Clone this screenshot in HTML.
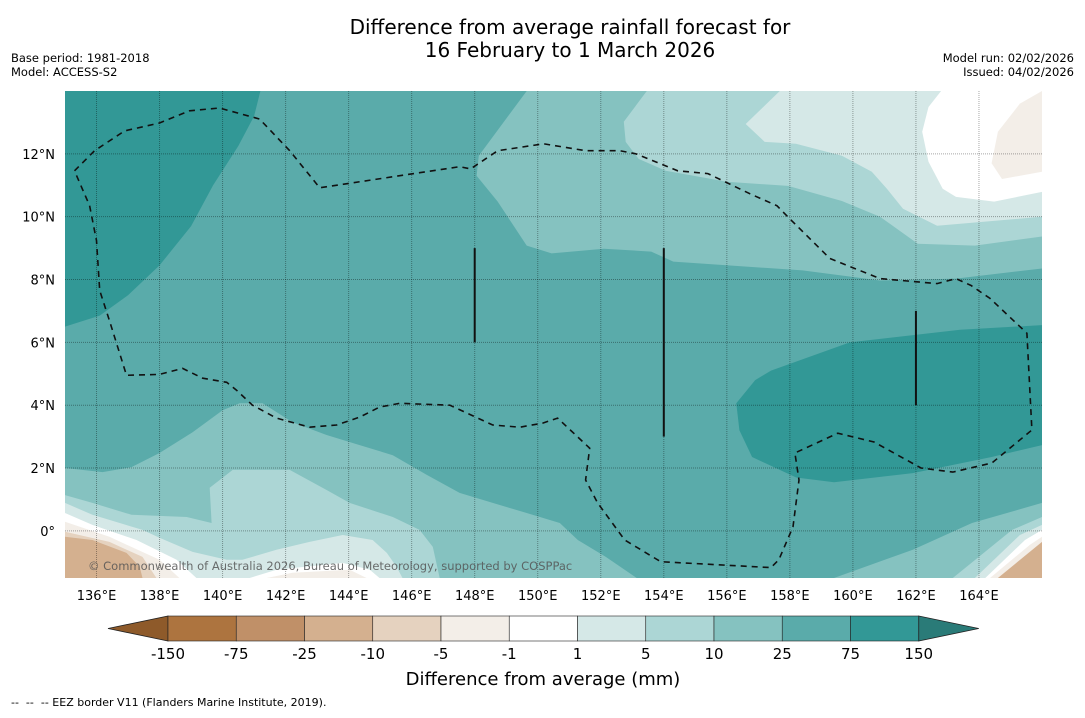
<!DOCTYPE html>
<html><head><meta charset="utf-8">
<style>
body{margin:0;background:#fff;width:1085px;height:713px;overflow:hidden;font-family:"Liberation Sans","DejaVu Sans",sans-serif;}
svg text{font-family:"DejaVu Sans","Liberation Sans",sans-serif;white-space:pre;}
</style></head>
<body>
<svg id="chart" width="1085" height="713" viewBox="0 0 1085 713" xmlns="http://www.w3.org/2000/svg">
<text x="570" y="34" font-size="20" text-anchor="middle" fill="#000">Difference from average rainfall forecast for</text>
<text x="570" y="57" font-size="20" text-anchor="middle" fill="#000">16 February to 1 March 2026</text>
<text x="11" y="62" font-size="11.5">Base period: 1981-2018</text>
<text x="11" y="76" font-size="11.5">Model: ACCESS-S2</text>
<text x="1074" y="62" font-size="11.5" text-anchor="end">Model run: 02/02/2026</text>
<text x="1074" y="76" font-size="11.5" text-anchor="end">Issued: 04/02/2026</text>
<defs><clipPath id="mapclip"><rect x="65" y="91" width="977" height="487"/></clipPath></defs>
<g id="map" clip-path="url(#mapclip)"></g>
<g id="axes"></g>
<g id="cbar"></g>
<text x="543" y="685" font-size="18" text-anchor="middle">Difference from average (mm)</text>
<text x="11" y="706" font-size="11">--  --  -- EEZ border V11 (Flanders Marine Institute, 2019).</text>
</svg>
<script>
// ---- data ----
const lonTicks = [136,138,140,142,144,146,148,150,152,154,156,158,160,162,164];
const latTicks = [0,2,4,6,8,10,12];
const levelLabels = ["-150","-75","-25","-10","-5","-1","1","5","10","25","75","150"];
const levelColors = ["#ad743f","#c09068","#d4b08f","#e5d2bf","#f3eee8","#ffffff","#d5e8e7","#acd6d5","#85c2c0","#5aabaa","#329896"];
const extendLow = "#8e5a2a", extendHigh = "#2a7b78";
const background = "#5aabaa";
// contour regions [lon,lat]
const darkTopLeft = [[135,14],[141.2,14],[141,13.2],[140.5,12.25],[139.7,11],[139,9.7],[138,8.45],[137,7.5],[136.1,6.85],[135,6.5]];
const darkRight = [[166,6.55],[163.4,6.4],[159.9,6.0],[157.4,5.1],[156.9,4.8],[156.3,4.06],[156.4,3.2],[156.8,2.35],[158.2,1.7],[159.4,1.55],[161.9,1.84],[164.4,2.35],[166,2.73]];
const topR10 = [[149.65,14],[148.13,11.94],[148.06,11.3],[148.73,10.48],[149.65,9.08],[150.44,8.83],[152.1,8.98],[153.6,8.89],[154.3,8.57],[158.4,8.29],[160.86,7.97],[163.27,8.03],[166,8.35],[166,14]];
const topR5 = [[153.46,14],[152.73,13.02],[152.79,12.38],[153.2,11.84],[154.06,11.46],[156,11.11],[157.94,10.98],[159.65,10.5],[160.86,10],[162.06,9.14],[163.87,9.08],[166,9.37],[166,14]];
const topR1 = [[157.68,14],[156.6,12.95],[157.2,12.38],[158.19,12.32],[159.65,11.94],[160.6,11.43],[161.08,10.89],[161.59,10.25],[162.67,9.71],[166,10],[166,14]];
const topRWhite = [[162.8,14],[162.4,13.49],[162.2,12.7],[162.4,11.75],[162.85,10.89],[163.27,10.63],[164.48,10.48],[166,10.79],[166,14]];
const topRBeige = [[166,14],[165.3,13.6],[164.6,12.7],[164.4,11.7],[164.73,11.2],[166,11.43]];
const botL10 = [[135,2],[136.19,1.87],[137.11,2.03],[138,2.48],[139.05,3.14],[140,3.84],[140.54,4.06],[141.27,4.06],[142.22,3.46],[143.3,3.05],[144.35,2.73],[145.4,2.41],[146.48,1.78],[147.52,1.21],[148.57,0.89],[149.65,0.57],[150.7,0.25],[151.27,-0.29],[152.16,-0.83],[153.14,-1.5],[135,-1.5]];
const botL5 = [[135,1.14],[135.87,0.89],[137.11,0.51],[138.86,0.44],[139.65,0.25],[139.59,1.37],[140.32,1.94],[142.13,1.94],[143.3,1.3],[144.03,0.89],[145.4,0.44],[146.25,0.03],[146.67,-0.51],[146.89,-1.5],[135,-1.5]];
const botL1 = [[135,0.89],[135.87,0.51],[137.46,0.03],[138,-0.22],[139.05,-0.67],[140.13,-0.92],[140.63,-0.92],[141.71,-0.6],[142.76,-0.35],[143.81,-0.13],[144.76,-0.29],[145.21,-0.7],[145.52,-1.14],[145.71,-1.5],[135,-1.5]];
const botLWhite = [[135,0.57],[135.87,0.19],[137.27,-0.29],[138.54,-0.92],[139.17,-1.5],[135,-1.5]];
const botMWhite = [[140.86,-1.5],[141.71,-1.24],[143.81,-1.02],[144.67,-1.24],[144.98,-1.5]];
const botLBeige = [[135,0.29],[136.41,-0.19],[138,-0.92],[138.63,-1.5],[135,-1.5]];
const botMBeige = [[141.4,-1.5],[142.22,-1.33],[144.03,-1.24],[144.57,-1.5]];
const botLTan1 = [[135,-0.03],[136.41,-0.35],[137.46,-0.83],[137.9,-1.5],[135,-1.5]];
const botLTan2 = [[135,-0.19],[135.87,-0.29],[136.95,-0.7],[137.37,-1.14],[137.46,-1.5],[135,-1.5]];
const botR10 = [[159.4,-1.5],[161.9,-0.6],[163.78,0.25],[166,0.89],[166,-1.5]];
const botR5 = [[163.17,-1.5],[165.05,0.03],[166,0.44],[166,-1.5]];
const botR1 = [[163.87,-1.5],[165.3,-0.13],[166,0.19],[166,-1.5]];
const botRWhite = [[164.2,-1.5],[165.46,-0.29],[166,0.03],[166,-1.5]];
const botRBeige = [[164.35,-1.5],[165.62,-0.44],[166,-0.19],[166,-1.5]];
const botRTan = [[164.6,-1.5],[166,-0.35],[166,-1.5]];
const eez = [[135.30,11.46],[135.94,12.10],[136.89,12.73],[138.0,12.98],[138.95,13.37],[139.9,13.46],[141.17,13.11],[142.13,12.1],[143.08,10.92],[146.25,11.4],[147.52,11.59],[147.87,11.52],[148.73,12.1],[150.19,12.32],[151.52,12.1],[152.6,12.1],[153.11,12.0],[154.44,11.46],[155.4,11.37],[156.73,10.73],[157.59,10.35],[158.06,9.87],[159.27,8.67],[160.86,8.03],[162.67,7.87],[163.27,8.03],[163.75,7.81],[164.35,7.4],[165.52,6.29],[165.68,3.21],[164.41,2.16],[163.17,1.87],[162.16,2.0],[160.67,2.83],[159.52,3.11],[158.16,2.48],[158.29,1.62],[158.1,0.13],[157.65,-0.92],[157.4,-1.17],[153.9,-0.98],[152.76,-0.29],[151.9,0.89],[151.52,1.62],[151.65,2.63],[150.63,3.59],[150.16,3.43],[149.43,3.3],[148.57,3.37],[147.75,3.75],[147.21,4.0],[145.62,4.06],[144.98,3.94],[144.35,3.62],[143.62,3.37],[142.76,3.3],[141.71,3.59],[140.95,4.0],[140.44,4.48],[140.13,4.73],[139.37,4.86],[138.73,5.17],[138.0,4.98],[136.95,4.95],[136.41,6.7],[136.1,7.65],[136.0,9.24],[135.78,10.35],[135.30,11.46]];
const boundaryLines = [[[148,6],[148,9]],[[154,3],[154,9]],[[162,4],[162,7]]];

// ---- axis functions ----
const X0=65,X1=1042,Y0=91,Y1=578,LON0=135,LON1=166,LAT0=-1.5,LAT1=14;
const lonX = l => X0 + (l-LON0)/(LON1-LON0)*(X1-X0);
const latY = l => Y1 - (l-LAT0)/(LAT1-LAT0)*(Y1-Y0);
const NS="http://www.w3.org/2000/svg";
const map=document.getElementById('map'), axes=document.getElementById('axes'), cbar=document.getElementById('cbar');
function mk(tag,attrs,parent){const e=document.createElementNS(NS,tag);for(const k in attrs)e.setAttribute(k,attrs[k]);parent.appendChild(e);return e;}
const pts = arr => arr.map(p=>lonX(p[0]).toFixed(1)+','+latY(p[1]).toFixed(1)).join(' ');

let bg=mk('rect',{x:X0,y:Y0,width:X1-X0,height:Y1-Y0,fill:background},map);



const regions=[
 ['region-75-150-topleft',darkTopLeft,levelColors[10]],
 ['region-75-150-right',darkRight,levelColors[10]],
 ['region-10-25-top',topR10,levelColors[8]],
 ['region-5-10-top',topR5,levelColors[7]],
 ['region-1-5-top',topR1,levelColors[6]],
 ['region-near-zero-top',topRWhite,levelColors[5]],
 ['region-minus5-top',topRBeige,levelColors[4]],
 ['region-10-25-bottom-left',botL10,levelColors[8]],
 ['region-5-10-bottom-left',botL5,levelColors[7]],
 ['region-1-5-bottom-left',botL1,levelColors[6]],
 ['region-near-zero-bottom-left',botLWhite,levelColors[5]],
 ['region-near-zero-bottom-mid',botMWhite,levelColors[5]],
 ['region-minus5-bottom-left',botLBeige,levelColors[4]],
 ['region-minus5-bottom-mid',botMBeige,levelColors[4]],
 ['region-minus10-bottom-left',botLTan1,levelColors[3]],
 ['region-minus25-bottom-left',botLTan2,levelColors[2]],
 ['region-10-25-bottom-right',botR10,levelColors[8]],
 ['region-5-10-bottom-right',botR5,levelColors[7]],
 ['region-1-5-bottom-right',botR1,levelColors[6]],
 ['region-near-zero-bottom-right',botRWhite,levelColors[5]],
 ['region-minus5-bottom-right',botRBeige,levelColors[4]],
 ['region-minus25-bottom-right',botRTan,levelColors[2]]
];
regions.forEach(r=>{
 const p=mk('polygon',{points:pts(r[1]),fill:r[2]},map);
 
 
});

// gridlines
lonTicks.forEach(l=>{
 const g=mk('line',{x1:lonX(l),x2:lonX(l),y1:Y0,y2:Y1,stroke:'rgba(0,0,0,0.35)','stroke-width':1,'stroke-dasharray':'1,1'},map);
 
 
});
latTicks.forEach(l=>{
 const g=mk('line',{x1:X0,x2:X1,y1:latY(l),y2:latY(l),stroke:'rgba(0,0,0,0.35)','stroke-width':1,'stroke-dasharray':'1,1'},map);
 
 
});

// eez
const ez=mk('polyline',{points:pts(eez),fill:'none',stroke:'#111','stroke-width':1.6,'stroke-dasharray':'6,5'},map);


boundaryLines.forEach((b,i)=>{
 const l=mk('line',{x1:lonX(b[0][0]),y1:latY(b[0][1]),x2:lonX(b[1][0]),y2:latY(b[1][1]),stroke:'#111','stroke-width':2},map);
 
 
});
const cp=mk('text',{x:88,y:570,'font-size':11.5,fill:'#555','fill-opacity':0.85},map);
cp.textContent='© Commonwealth of Australia 2026, Bureau of Meteorology, supported by COSPPac';



// tick labels
lonTicks.forEach(l=>{
 const t=mk('text',{x:lonX(l),y:600,'font-size':13,'text-anchor':'middle'},axes);
 t.textContent=l+'°E';
 
 
});
latTicks.forEach(l=>{
 const t=mk('text',{x:55,y:latY(l)+5,'font-size':13,'text-anchor':'end'},axes);
 t.textContent= l===0 ? '0°' : l+'°N';
 
 
});

// colorbar
const CB0=168,CBW=68.25,CBY=616,CBH=25;
const lt=mk('polygon',{points:`108,${CBY+CBH/2} ${CB0},${CBY} ${CB0},${CBY+CBH}`,fill:extendLow,stroke:'#222','stroke-width':0.8},cbar);


levelColors.forEach((c,i)=>{
 const r=mk('rect',{x:CB0+i*CBW,y:CBY,width:CBW,height:CBH,fill:c,stroke:'#222','stroke-width':0.6},cbar);
 
 
});
const xe=CB0+levelColors.length*CBW;
const rt=mk('polygon',{points:`${xe},${CBY} ${xe+60},${CBY+CBH/2} ${xe},${CBY+CBH}`,fill:extendHigh,stroke:'#222','stroke-width':0.8},cbar);


levelLabels.forEach((s,i)=>{
 const t=mk('text',{x:CB0+i*CBW,y:659,'font-size':15,'text-anchor':'middle'},cbar);
 t.textContent=s;
 
 
});
</script>
</body></html>
